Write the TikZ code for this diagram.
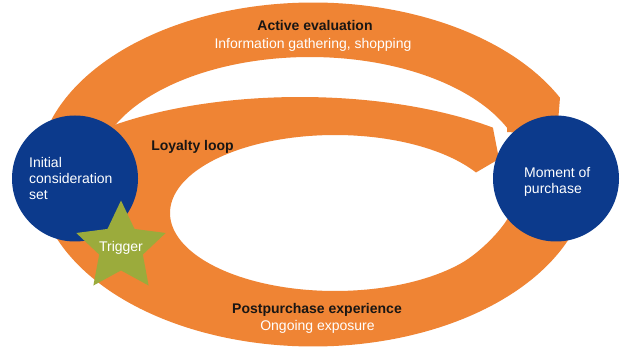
\documentclass[tikz,border=0pt]{standalone}
\usepackage{fontspec}
\setmainfont{Liberation Sans}
\usetikzlibrary{shapes.geometric}
\definecolor{bandorange}{RGB}{239,132,52}
\definecolor{circblue}{RGB}{12,58,140}
\definecolor{stargreen}{RGB}{155,171,60}
\definecolor{lblblack}{RGB}{25,22,20}
\begin{document}
\begin{tikzpicture}[x=1pt,y=-1pt,
  band/.style={fill=bandorange},
  stage/.style={circle, fill=circblue, minimum size=126pt, inner sep=0pt, outer sep=0pt},
  trigstar/.style={star, star points=5, star point ratio=2.05, minimum size=94pt, inner sep=0pt, outer sep=0pt, fill=stargreen},
  ctext/.style={text=white, font=\fontsize{14}{16}\selectfont, inner sep=0pt, anchor=base west},
  boldlbl/.style={text=lblblack, font=\fontsize{14}{16}\selectfont\bfseries, inner sep=0pt, anchor=base},
  sublbl/.style={text=white, font=\fontsize{14}{16}\selectfont, inner sep=0pt, anchor=base}]
\useasboundingbox (0,0) rectangle (633,350);
\fill[white] (0,0) rectangle (633,350);
% Active evaluation band (outer ellipse top, inner edge ellipse)
\fill[band] plot[domain=-165:-26.5, samples=90, variable=\t] ({313+276*cos(\t)},{174.5+172*sin(\t)})
  -- (557,135) -- (507,132)
  -- plot[domain=23.6:162.5, samples=90, variable=\t] ({310+215*cos(\t)},{175-118*sin(\t)})
  -- cycle;
% Loyalty loop + postpurchase band
\fill[band] plot[domain=-150:-47.4, samples=90, variable=\t] ({300+285*cos(\t)},{213+116*sin(\t)})
  -- (499,159)
  -- plot[domain=31.3:320, samples=150, variable=\t] ({335+165*cos(\t)},{213-78*sin(\t)})
  .. controls (478.8,253.3) and (500,232) .. (508,218)
  -- (540,212)
  -- plot[domain=18:160, samples=120, variable=\t] ({313+276*cos(\t)},{174.5+172*sin(\t)})
  -- cycle;
% stages
\node[stage] (ics) at (75,178.5) {};
\node[stage] (mop) at (556,178.5) {};
\node[trigstar] (trig) at (121,247.5) {};
% texts
\node[ctext] (ics1) at (29,167.5) {Initial};
\node[ctext] (ics2) at (29,183.5) {consideration};
\node[ctext] (ics3) at (29,199.5) {set};
\node[ctext] (mop1) at (524,177.5) {Moment of};
\node[ctext] (mop2) at (524,193.5) {purchase};
\node[sublbl] (trigtxt) at (121,251.7) {Trigger};
\node[boldlbl] (ae) at (315,30.5) {Active evaluation};
\node[sublbl] (ig) at (313,48.5) {Information gathering, shopping};
\node[boldlbl] (ll) at (192.5,150.5) {Loyalty loop};
\node[boldlbl] (pe) at (317,314) {Postpurchase experience};
\node[sublbl] (oe) at (317.5,330.5) {Ongoing exposure};
\end{tikzpicture}
\end{document}
